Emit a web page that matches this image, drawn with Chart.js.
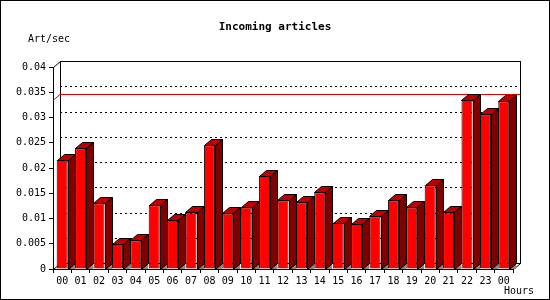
<!DOCTYPE html>
<html>
<head>
<meta charset="utf-8">
<script src="https://cdn.jsdelivr.net/npm/chart.js@4"></script>
<style>
  html, body { margin: 0; padding: 0; background: #fff; }
  canvas { display: block; }
</style>
</head>
<body>
<canvas id="chart" width="550" height="300"></canvas>
<script>
// hours of the day (last one wraps to the next midnight)
const hours = ['00', '01', '02', '03', '04', '05', '06', '07', '08', '09', '10', '11',
  '12', '13', '14', '15', '16', '17', '18', '19', '20', '21', '22', '23', '00'];

// incoming articles per second, per hour
const artPerSec = [0.0216, 0.0239, 0.0130, 0.0050, 0.0057, 0.0126, 0.0097, 0.0112,
  0.0245, 0.0110, 0.0122, 0.0184, 0.0136, 0.0132, 0.0152, 0.0092, 0.0090, 0.0104,
  0.0136, 0.0122, 0.0166, 0.0112, 0.0335, 0.0306, 0.0332];

// y axis tick values
const yTicks = [0, 0.005, 0.01, 0.015, 0.02, 0.025, 0.03, 0.035, 0.04];

// depth of the 3d look
const DX = 7, DY = -6;
const FONT = '"DejaVu Sans Mono", monospace';

const frame3d = {
  id: 'frame3d',
  beforeDraw(chart) {
    const ctx = chart.ctx;
    ctx.save();
    ctx.fillStyle = '#fff';
    ctx.fillRect(0, 0, chart.width, chart.height);
    ctx.restore();
  },
  beforeDatasetsDraw(chart) {
    const ctx = chart.ctx;
    const a = chart.chartArea;
    const y = chart.scales.y;
    ctx.save();
    ctx.lineWidth = 1;

    // dotted grid on the back wall
    ctx.strokeStyle = '#000';
    ctx.setLineDash([2, 3]);
    yTicks.forEach(v => {
      if (v === 0 || v === 0.04) return;
      const py = Math.round(y.getPixelForValue(v) + DY) + 0.5;
      ctx.beginPath();
      ctx.moveTo(a.left + DX, py);
      ctx.lineTo(a.right + DX, py);
      ctx.stroke();
    });
    ctx.setLineDash([]);

    // back wall frame
    ctx.strokeRect(Math.round(a.left + DX) + 0.5, Math.round(a.top + DY) + 0.5,
      Math.round(a.right - a.left), Math.round(a.bottom - a.top));

    // depth edges
    ctx.beginPath();
    ctx.moveTo(a.left + 0.5, a.top + 0.5);
    ctx.lineTo(a.left + DX + 0.5, a.top + DY + 0.5);
    ctx.moveTo(a.right + 0.5, a.bottom + 0.5);
    ctx.lineTo(a.right + DX + 0.5, a.bottom + DY + 0.5);
    ctx.moveTo(a.left + 0.5, a.bottom + 0.5);
    ctx.lineTo(a.left + DX + 0.5, a.bottom + DY + 0.5);
    ctx.stroke();

    // peak line
    const peak = Math.max(...artPerSec);
    const py = Math.round(y.getPixelForValue(peak)) + 0.5;
    ctx.strokeStyle = '#e00000';
    ctx.beginPath();
    ctx.moveTo(a.left, py);
    ctx.lineTo(a.left + DX, py + DY);
    ctx.lineTo(a.right + DX, py + DY);
    ctx.stroke();

    // floor shadows
    const meta = chart.getDatasetMeta(0);
    ctx.fillStyle = '#888';
    meta.data.forEach(bar => {
      const r = Math.round(bar.x + bar.width / 2);
      const b = Math.round(a.bottom);
      ctx.beginPath();
      ctx.moveTo(r, b);
      ctx.lineTo(r + DX, b + DY);
      ctx.lineTo(r + DX, b);
      ctx.closePath();
      ctx.fill();
    });
    ctx.restore();
  },
  afterDatasetsDraw(chart) {
    const ctx = chart.ctx;
    const meta = chart.getDatasetMeta(0);
    ctx.save();
    ctx.lineWidth = 1;
    ctx.strokeStyle = '#000';
    meta.data.forEach(bar => {
      const l = Math.round(bar.x - bar.width / 2) + 0.5;
      const r = Math.round(bar.x + bar.width / 2) + 0.5;
      const t = Math.round(bar.y) + 0.5;
      const b = Math.round(bar.base) + 0.5;
      // top face
      ctx.fillStyle = '#c00000';
      ctx.beginPath();
      ctx.moveTo(l, t);
      ctx.lineTo(l + DX, t + DY);
      ctx.lineTo(r + DX, t + DY);
      ctx.lineTo(r, t);
      ctx.closePath();
      ctx.fill();
      ctx.stroke();
      // side face
      ctx.fillStyle = '#800000';
      ctx.beginPath();
      ctx.moveTo(r, t);
      ctx.lineTo(r + DX, t + DY);
      ctx.lineTo(r + DX, b + DY);
      ctx.lineTo(r, b);
      ctx.closePath();
      ctx.fill();
      ctx.stroke();
    });

    // texts
    ctx.fillStyle = '#000';
    ctx.textBaseline = 'middle';
    ctx.font = 'bold 11px ' + FONT;
    ctx.textAlign = 'center';
    ctx.fillText('Incoming articles', 275, 27);
    ctx.font = '10px ' + FONT;
    ctx.textAlign = 'left';
    ctx.fillText('Art/sec', 28, 39);
    ctx.textAlign = 'right';
    ctx.fillText('Hours', 534, 291);

    // outer border
    ctx.strokeRect(0.5, 0.5, chart.width - 1, chart.height - 1);
    ctx.restore();
  }
};

new Chart(document.getElementById('chart'), {
  type: 'bar',
  data: {
    labels: hours,
    datasets: [{
      label: 'Art/sec',
      data: artPerSec,
      backgroundColor: '#ff0000',
      borderColor: '#000',
      borderWidth: 1,
      categoryPercentage: 1,
      barPercentage: 0.6
    }]
  },
  options: {
    responsive: false,
    animation: false,
    devicePixelRatio: 1,
    layout: { padding: { top: 67, left: 0, right: 37, bottom: 0 } },
    plugins: {
      legend: { display: false },
      title: { display: false },
      tooltip: { enabled: false }
    },
    scales: {
      x: {
        offset: true,
        grid: { display: true, drawOnChartArea: false, offset: true, tickLength: 4, color: '#000' },
        border: { display: true, color: '#000' },
        ticks: { color: '#000', font: { family: FONT, size: 10 }, padding: 2, maxRotation: 0, autoSkip: false },
        afterFit(scale) { scale.height = 31; }
      },
      y: {
        min: 0,
        max: 0.04,
        afterBuildTicks(scale) { scale.ticks = yTicks.map(v => ({ value: v })); },
        grid: { display: true, drawOnChartArea: false, tickLength: 4, color: '#000' },
        border: { display: true, color: '#000' },
        ticks: { color: '#000', font: { family: FONT, size: 10 }, padding: 3,
          callback: v => String(+v.toFixed(3)) },
        afterFit(scale) { scale.width = 53; }
      }
    }
  },
  plugins: [frame3d]
});
</script>
</body>
</html>
